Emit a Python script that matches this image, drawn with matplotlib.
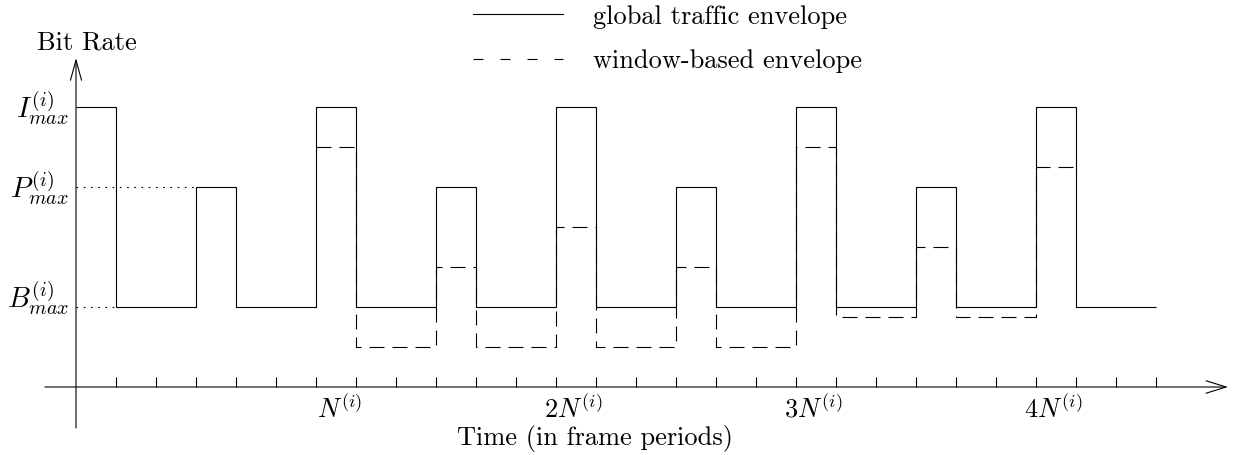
import numpy as np
import matplotlib
matplotlib.use("Agg")
import matplotlib.pyplot as plt
from matplotlib.lines import Line2D

plt.rcParams['font.family'] = ['cmr10', 'DejaVu Serif']
plt.rcParams['mathtext.fontset'] = 'cm'
plt.rcParams['axes.unicode_minus'] = False

# frame-level envelopes (GOP: I B B P B B), rate in arbitrary units
I_MAX, P_MAX, B_MAX = 7.0, 5.0, 2.0
gop = [I_MAX, B_MAX, B_MAX, P_MAX, B_MAX, B_MAX]
global_env = gop * 4 + [I_MAX, B_MAX, B_MAX]          # frames 0..26
global_edges = np.arange(len(global_env) + 1)

window_env = [6.0, 1.0, 1.0, 3.0, 1.0, 1.0,
              4.0, 1.0, 1.0, 3.0, 1.0, 1.0,
              6.0, 1.75, 1.75, 3.5, 1.75, 1.75,
              5.5]                                     # frames 6..24
window_edges = np.arange(6, 6 + len(window_env) + 1)

N = 6
tick_pos = np.arange(1, 28)
n_labels = [r'$N^{(i)}$', r'$2N^{(i)}$', r'$3N^{(i)}$', r'$4N^{(i)}$']
level_labels = [r'$I^{(i)}_{max}$', r'$P^{(i)}_{max}$', r'$B^{(i)}_{max}$']
levels = [I_MAX, P_MAX, B_MAX]

fig = plt.figure(figsize=(12.37, 4.55), dpi=100)
ax = fig.add_axes([0, 0, 1, 1])
ax.set_xlim(-1.9, 29.025)
ax.set_ylim(-1.7, 9.675)
ax.axis('off')

lw = 0.8
# axes with open arrow heads
ax.annotate('', xy=(28.8, 0), xytext=(-0.775, 0),
            arrowprops=dict(arrowstyle='->,head_length=1.45,head_width=0.45',
                            lw=lw, color='black', shrinkA=0, shrinkB=0,
                            mutation_scale=10))
ax.annotate('', xy=(0, 8.225), xytext=(0, -1.025),
            arrowprops=dict(arrowstyle='->,head_length=1.45,head_width=0.4',
                            lw=lw, color='black', shrinkA=0, shrinkB=0,
                            mutation_scale=10))
ax.vlines(tick_pos, 0, 0.25, color='black', lw=lw)

# envelopes
ax.stairs(global_env, global_edges, baseline=None, color='black', lw=lw)
ax.stairs(window_env, window_edges, baseline=None, color='black', lw=lw,
          linestyle=(0, (13.5, 7.2)))

# dotted guides
ax.hlines(P_MAX, 0, 3, color='black', lw=lw, linestyle=(0, (1.5, 5.0)))
ax.hlines(B_MAX, 0, 1, color='black', lw=lw, linestyle=(0, (1.5, 5.0)))

fs = 19
for lab, lev, off in zip(level_labels, levels, [0.26, 0.27, 0.02]):
    ax.text(-0.17, lev - off, lab, ha='right', va='baseline', fontsize=20.5)

for i, lab in enumerate(n_labels):
    ax.text(N * (i + 1) + 1.15, -0.775, lab, ha='right', va='baseline',
            fontsize=fs)

ax.text(0.275, 8.425, 'Bit Rate', ha='center', va='baseline', fontsize=fs)
ax.text(12.975, -1.45, 'Time (in frame periods)', ha='center',
        va='baseline', fontsize=fs)

handles = [Line2D([], [], color='black', lw=lw),
           Line2D([], [], color='black', lw=lw, linestyle=(0, (9.0, 15.3)))]
fig.legend(handles, ['global traffic envelope', 'window-based envelope'],
           loc='upper left', bbox_to_anchor=(473 / 1237, 1 - 5 / 455),
           frameon=False, fontsize=fs, handlelength=3.4, handletextpad=1.15,
           borderpad=0, borderaxespad=0, labelspacing=0.78)

fig.savefig('out.png', dpi=100)
